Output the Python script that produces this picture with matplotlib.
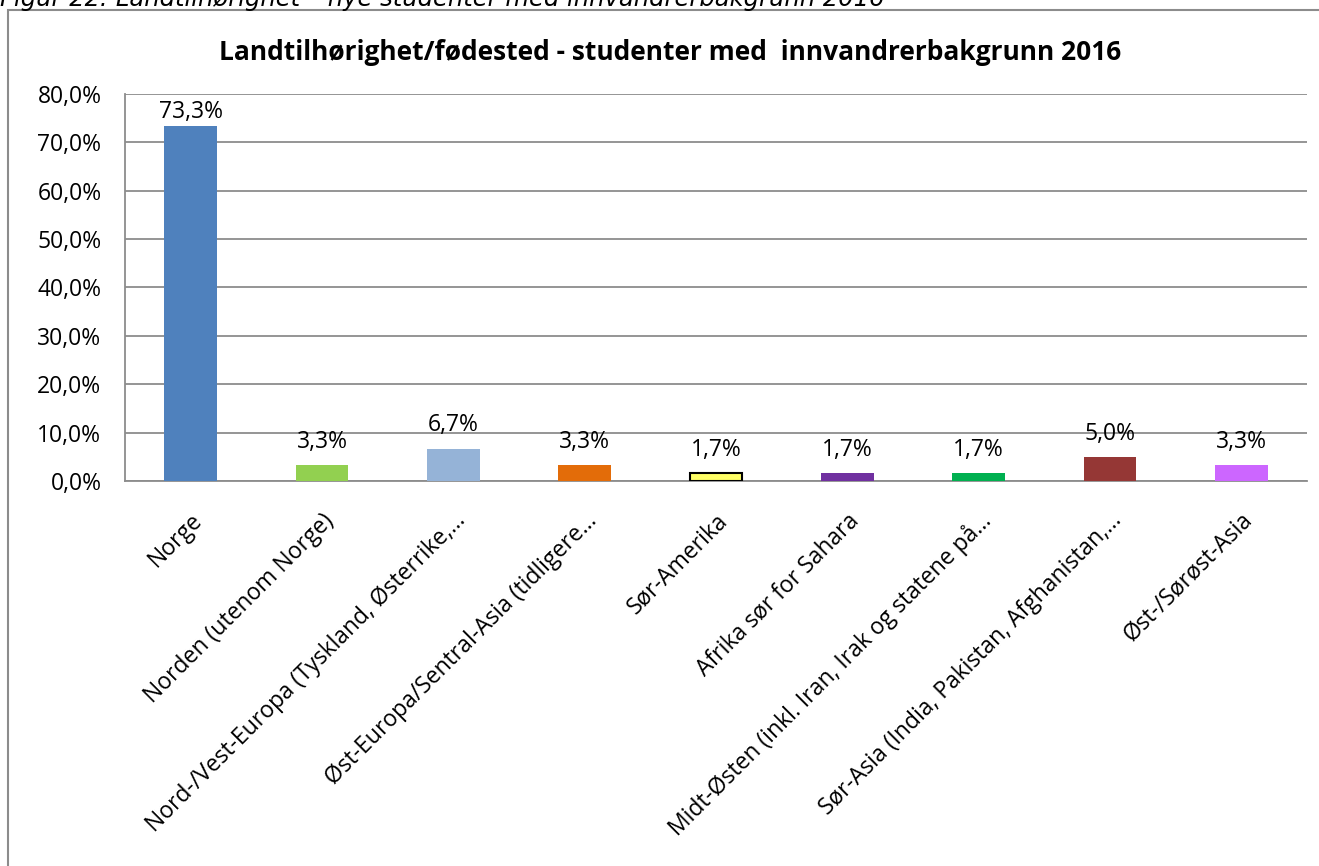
import matplotlib
matplotlib.use('Agg')
import matplotlib.pyplot as plt
import matplotlib.patches as mpatches
from matplotlib.ticker import MultipleLocator, FuncFormatter

# Data
categories = [
    "Norge",
    "Norden (utenom Norge)",
    "Nord-/Vest-Europa (Tyskland, Østerrike,...",
    "Øst-Europa/Sentral-Asia (tidligere...",
    "Sør-Amerika",
    "Afrika sør for Sahara",
    "Midt-Østen (inkl. Iran, Irak og statene på...",
    "Sør-Asia (India, Pakistan, Afghanistan,...",
    "Øst-/Sørøst-Asia",
]
values = [73.3, 3.3, 6.7, 3.3, 1.7, 1.7, 1.7, 5.0, 3.3]
value_labels = ["73,3%", "3,3%", "6,7%", "3,3%", "1,7%", "1,7%", "1,7%", "5,0%", "3,3%"]
colors = ['#4F81BD', '#92D050', '#95B3D7', '#E36C09', '#FFFF66',
          '#7030A0', '#00B050', '#953735', '#CC66FF']

FONT = ['Open Sans', 'DejaVu Sans']
plt.rcParams['font.family'] = FONT

fig = plt.figure(figsize=(13.19, 8.66), dpi=100)
W, H = 1319, 866

# outer chart frame (runs off the right and bottom edge)
frame = mpatches.Rectangle((8 / W, -0.05), 1.2, 1 - 10 / H + 0.05,
                           transform=fig.transFigure, fill=False,
                           edgecolor='#8c8c8c', linewidth=1.5, clip_on=False)
fig.patches.append(frame)

# caption clipped at the top
fig.text(0.0, 1.0 + 1 / H, "Figur 22: Landtilhørighet – nye studenter med innvandrerbakgrunn 2016",
         fontsize=17.5, style='italic', family='DejaVu Sans', ha='left', va='center')

ax = fig.add_axes([125 / W, 1 - 481 / H, (1307 - 125) / W, (481 - 94) / H])

x = list(range(len(categories)))
for i, (v, c) in enumerate(zip(values, colors)):
    edge = 'black' if c == '#FFFF66' else c
    lw = 1.5 if c == '#FFFF66' else 0
    ax.bar(i, v, width=0.4, color=c, edgecolor=edge, linewidth=lw, zorder=3)
    # Excel pushes the top label down to stay inside the plot area
    pad = 2 if v > 70 else 8
    ax.annotate(value_labels[i], (i, v), xytext=(0, pad), textcoords='offset points',
                ha='center', va='bottom', fontsize=16.5, zorder=4)

ax.set_xlim(-0.5, len(categories) - 0.5)
ax.set_ylim(0, 80)
ax.yaxis.set_major_locator(MultipleLocator(10))
ax.yaxis.set_major_formatter(FuncFormatter(lambda v, p: f"{v:.1f}%".replace('.', ',')))
ax.grid(axis='y', color='#8c8c8c', linewidth=1.3, zorder=0)

for s in ['top', 'right']:
    ax.spines[s].set_visible(False)
for s in ['left', 'bottom']:
    ax.spines[s].set_color('#8c8c8c')
    ax.spines[s].set_linewidth(1.3)

ax.tick_params(axis='y', length=0, labelsize=16.5, pad=17)
ax.tick_params(axis='x', length=0, pad=20)
ax.set_xticks(x)
ax.set_xticklabels(categories, rotation=45, ha='right', rotation_mode='anchor', fontsize=16.5)

fig.text(670 / W, 1 - 52 / H, "Landtilhørighet/fødested - studenter med  innvandrerbakgrunn 2016",
         ha='center', va='center', fontsize=19, fontweight='bold')

fig.savefig('out.png', dpi=100)
